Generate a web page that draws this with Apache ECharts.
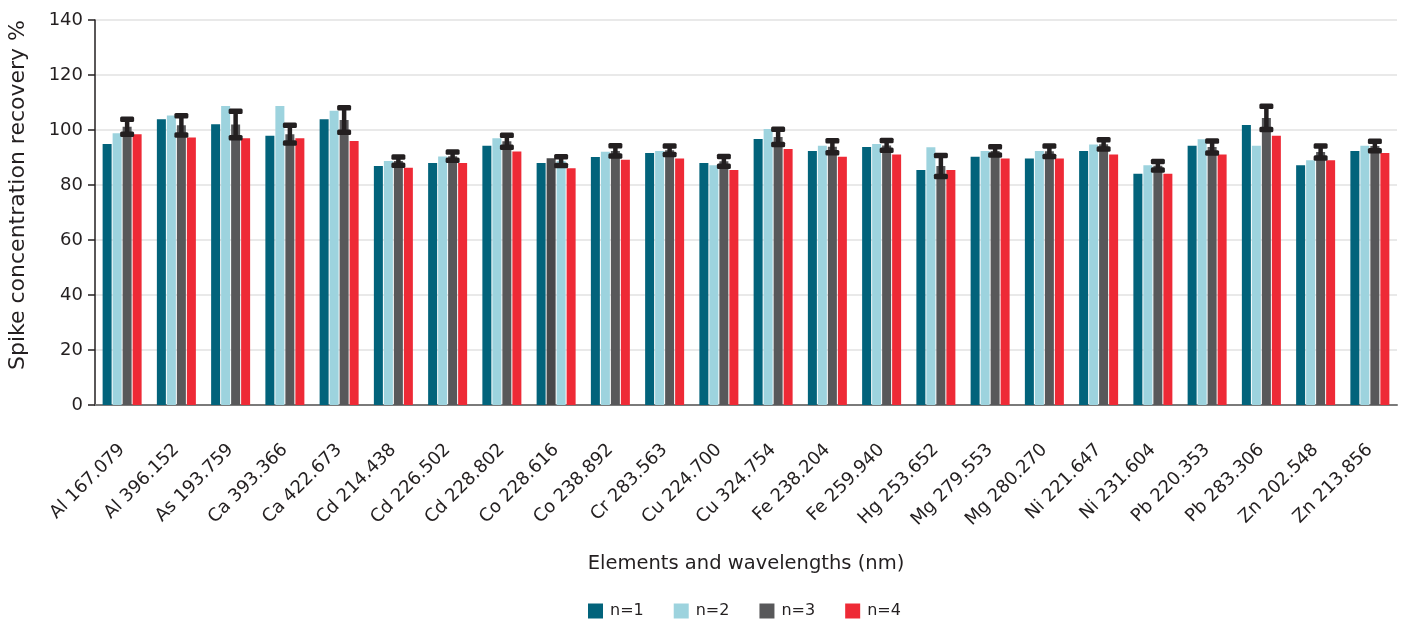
<!DOCTYPE html>
<html>
<head>
<meta charset="utf-8">
<script src="https://cdn.jsdelivr.net/npm/echarts@6/dist/echarts.min.js"></script>
<style>
  html, body { margin: 0; padding: 0; background: #ffffff; }
  #chart { width: 1405px; height: 622px; }
</style>
</head>
<body>
<div id="chart"></div>
<script>
// Element emission lines on the x axis
const categories = [
  'Al 167.079', 'Al 396.152', 'As 193.759', 'Ca 393.366', 'Ca 422.673', 'Cd 214.438',
  'Cd 226.502', 'Cd 228.802', 'Co 228.616', 'Co 238.892', 'Cr 283.563', 'Cu 224.700',
  'Cu 324.754', 'Fe 238.204', 'Fe 259.940', 'Hg 253.652', 'Mg 279.553', 'Mg 280.270',
  'Ni 221.647', 'Ni 231.604', 'Pb 220.353', 'Pb 283.306', 'Zn 202.548', 'Zn 213.856'
];

// Spike recovery (%) for each replicate
const n1 = [94.9, 103.9, 102.1, 97.9, 103.9, 86.9, 88.0, 94.3, 88.0, 90.2, 91.6, 88.0,
            96.7, 92.4, 93.8, 85.5, 90.3, 89.6, 92.4, 84.1, 94.3, 101.8, 87.2, 92.4];
const n2 = [98.8, 105.3, 108.7, 108.7, 107.0, 88.7, 90.4, 97.0, 89.7, 92.1, 92.4, 87.2,
            100.4, 94.3, 94.9, 93.7, 92.4, 92.4, 94.7, 87.2, 96.6, 94.3, 89.0, 94.3];
const n3 = [101.2, 101.7, 102.0, 98.5, 103.6, 88.7, 90.5, 95.9, 88.7, 92.4, 92.6, 88.6,
            97.5, 93.9, 94.4, 86.9, 92.4, 92.3, 94.8, 87.0, 93.8, 104.4, 92.0, 94.2];
const n4 = [98.5, 97.3, 97.0, 97.0, 96.0, 86.3, 88.0, 92.2, 86.1, 89.2, 89.6, 85.5,
            93.1, 90.3, 91.1, 85.5, 89.6, 89.6, 91.1, 84.1, 91.1, 97.9, 89.0, 91.6];
// Error bar half-width (±) on the n=3 replicate
const n3Err = [2.75, 3.5, 4.85, 3.25, 4.45, 1.5, 1.5, 2.2, 1.6, 1.85, 1.55, 1.8,
               2.75, 2.2, 1.75, 3.85, 1.5, 1.9, 1.7, 1.55, 2.2, 4.25, 2.15, 1.75];

const seriesNames = ['n=1', 'n=2', 'n=3', 'n=4'];
const yTicks = [0, 20, 40, 60, 80, 100, 120, 140];

const COLORS = ['#02637b', '#9dd3de', '#58585a', '#ee2a36'];
const INK = '#231f20';
const FONT = 'DejaVu Sans';
const BAR_W = 9;
const BAR_GAP_PX = 1;

// In the Co 228.616 group the n=2 and n=3 bars carry each other's colour
const swapIndex = categories.indexOf('Co 228.616');
function withOverride(values, seriesIdx) {
  return values.map((v, i) => {
    if (i !== swapIndex) return v;
    if (seriesIdx === 1) return { value: v, itemStyle: { color: '#48484a' } };
    if (seriesIdx === 2) return { value: v, itemStyle: { color: COLORS[1] } };
    return v;
  });
}

const barSets = [n1, n2, n3, n4];
const barSeries = barSets.map((vals, k) => ({
  name: seriesNames[k],
  type: 'bar',
  data: withOverride(vals, k),
  barWidth: BAR_W,
  barGap: (BAR_GAP_PX / BAR_W * 100).toFixed(1) + '%',
  itemStyle: { color: COLORS[k] },
  z: 2
}));

// Horizontal offset of the n=3 bar from its category centre
const groupW = 4 * BAR_W + 3 * BAR_GAP_PX;
const n3Offset = -groupW / 2 + 2 * (BAR_W + BAR_GAP_PX) + BAR_W / 2;

const errData = n3.map((m, i) => [i, m, n3Err[i]]);

const errSeries = {
  type: 'custom',
  name: 'n=3 error',
  data: errData,
  encode: { x: 0, y: 1 },
  z: 5,
  silent: true,
  renderItem: function (params, api) {
    const idx = api.value(0);
    const mean = api.value(1);
    const err = api.value(2);
    const x = api.coord([idx, mean])[0] + n3Offset;
    const yTop = api.coord([idx, mean + err])[1];
    const yBot = api.coord([idx, mean - err])[1];
    const lineW = 4.5;
    const capW = 14;
    const capH = 5.5;
    const style = { fill: INK };
    return {
      type: 'group',
      children: [
        { type: 'rect', shape: { x: x - lineW / 2, y: yTop, width: lineW, height: yBot - yTop }, style: style },
        { type: 'rect', shape: { x: x - capW / 2, y: yTop - capH / 2, width: capW, height: capH, r: 1.5 }, style: style },
        { type: 'rect', shape: { x: x - capW / 2, y: yBot - capH / 2, width: capW, height: capH, r: 1.5 }, style: style }
      ]
    };
  }
};

const chart = echarts.init(document.getElementById('chart'), null, { renderer: 'canvas' });

chart.setOption({
  backgroundColor: '#ffffff',
  animation: false,
  textStyle: { fontFamily: FONT, color: INK },
  grid: { left: 95, right: 8, top: 20, bottom: 217, containLabel: false },
  legend: {
    data: seriesNames,
    left: 588,
    top: 603,
    padding: 0,
    icon: 'rect',
    itemWidth: 15,
    itemHeight: 15,
    itemGap: 30,
    textStyle: { fontFamily: FONT, fontSize: 16, color: INK, padding: [0, 0, 0, 2] }
  },
  xAxis: {
    type: 'category',
    data: categories,
    name: 'Elements and wavelengths (nm)',
    nameLocation: 'middle',
    nameGap: 149,
    nameTextStyle: { fontFamily: FONT, fontSize: 19.5, color: INK },
    axisLine: { show: true, lineStyle: { color: '#7a7a7a', width: 2 } },
    axisTick: { show: false },
    axisLabel: {
      rotate: 45,
      interval: 0,
      margin: 42,
      fontFamily: FONT,
      fontSize: 18,
      color: INK
    },
    splitLine: { show: false }
  },
  yAxis: {
    type: 'value',
    min: yTicks[0],
    max: yTicks[yTicks.length - 1],
    interval: yTicks[1] - yTicks[0],
    axisLine: { show: true, lineStyle: { color: INK, width: 1.5 } },
    axisTick: { show: true, length: 7, lineStyle: { color: INK, width: 1.5 } },
    axisLabel: { margin: 12, fontFamily: FONT, fontSize: 18, color: INK },
    splitLine: { show: true, lineStyle: { color: '#e2e2e2', width: 1.5 } }
  },
  graphic: [{
    type: 'text',
    x: 18,
    y: 195,
    rotation: Math.PI / 2,
    style: {
      text: 'Spike concentration recovery %',
      fontFamily: FONT,
      fontSize: 22,
      fill: INK,
      align: 'center',
      verticalAlign: 'middle'
    }
  }],
  series: barSeries.concat([errSeries])
});
</script>
</body>
</html>
